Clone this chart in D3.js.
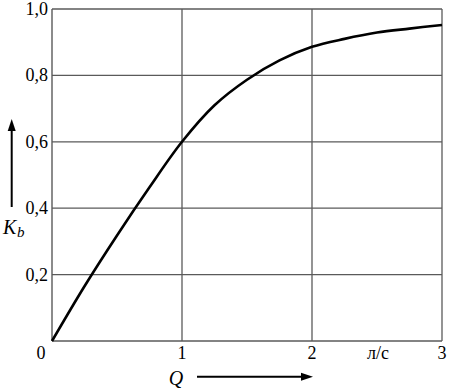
<!DOCTYPE html>
<html><head><meta charset="utf-8">
<script src="https://cdn.jsdelivr.net/npm/d3@7"></script>
</head><body>
<script>
const qValues = [0,0.25,0.5,0.75,1,1.25,1.5,1.75,2,2.25,2.5,2.75,3];
const kValues = [0,0.165,0.318,0.463,0.6,0.71,0.787,0.845,0.886,0.91,0.929,0.941,0.952];
const xTicks = [1,2,3];
const yTicks = [0.2,0.4,0.6,0.8,1.0];
const xTickLabels = ["1","2","3"];
const yTickLabels = ["0,2","0,4","0,6","0,8","1,0"];

document.body.style.margin="0";
const W=449,H=391;
const svg=d3.select("body").append("svg").attr("width",W).attr("height",H).style("display","block");
const x=d3.scaleLinear().domain([0,3]).range([52,442]);
const y=d3.scaleLinear().domain([0,1]).range([341,9]);
const grid="#5a5a5a";

svg.append("g").selectAll("line").data(xTicks).join("line")
  .attr("x1",d=>x(d)).attr("x2",d=>x(d)).attr("y1",y(0)).attr("y2",y(1))
  .attr("stroke",grid).attr("stroke-width",1.3);
svg.append("g").selectAll("line").data(yTicks).join("line")
  .attr("x1",x(0)).attr("x2",x(3)).attr("y1",d=>y(d)).attr("y2",d=>y(d))
  .attr("stroke",grid).attr("stroke-width",1.3);
svg.append("line").attr("x1",x(0)).attr("x2",x(0)).attr("y1",y(0)).attr("y2",y(1)).attr("stroke",grid).attr("stroke-width",1.4);
svg.append("line").attr("x1",x(0)).attr("x2",x(3)).attr("y1",y(0)).attr("y2",y(0)).attr("stroke",grid).attr("stroke-width",1.4);

const line=d3.line().x((d,i)=>x(qValues[i])).y(d=>y(d)).curve(d3.curveCatmullRom);
svg.append("path").datum(kValues).attr("d",line).attr("fill","none").attr("stroke","#000").attr("stroke-width",2.6);

const labels=[];
yTicks.forEach((d,i)=>labels.push({x:48,y:y(d)+6,a:"end",t:yTickLabels[i],s:18,it:false}));
xTicks.forEach((d,i)=>labels.push({x:x(d),y:359,a:"middle",t:xTickLabels[i],s:18,it:false}));
labels.push({x:41,y:359,a:"middle",t:"0",s:18,it:false});
labels.push({x:378,y:359,a:"middle",t:"л/с",s:18,it:false});
labels.push({x:176,y:385,a:"middle",t:"Q",s:20,it:true});
svg.append("g").selectAll("text").data(labels).join("text")
  .attr("x",d=>d.x).attr("y",d=>d.y).attr("text-anchor",d=>d.a)
  .attr("font-size",d=>d.s).style("font-style",d=>d.it?"italic":"normal")
  .style("font-family",d=>'"Liberation Serif"').text(d=>d.t);

svg.append("line").attr("x1",197).attr("x2",303).attr("y1",376.7).attr("y2",376.7).attr("stroke","#000").attr("stroke-width",2);
svg.append("path").attr("d","M313,376.7 L301,372.7 L301,380.7 Z").attr("fill","#000");

svg.append("line").attr("x1",11.7).attr("x2",11.7).attr("y1",207).attr("y2",130).attr("stroke","#000").attr("stroke-width",2);
svg.append("path").attr("d","M11.7,119 L7.7,131 L15.7,131 Z").attr("fill","#000");
svg.append("text").attr("x",3).attr("y",234).attr("font-size",20).style("font-style","italic")
  .style("font-family",'"Liberation Serif"').text("K");
svg.append("text").attr("x",17).attr("y",237).attr("font-size",15).style("font-style","italic")
  .style("font-family",'"Liberation Serif"').text("b");
</script>
</body></html>
